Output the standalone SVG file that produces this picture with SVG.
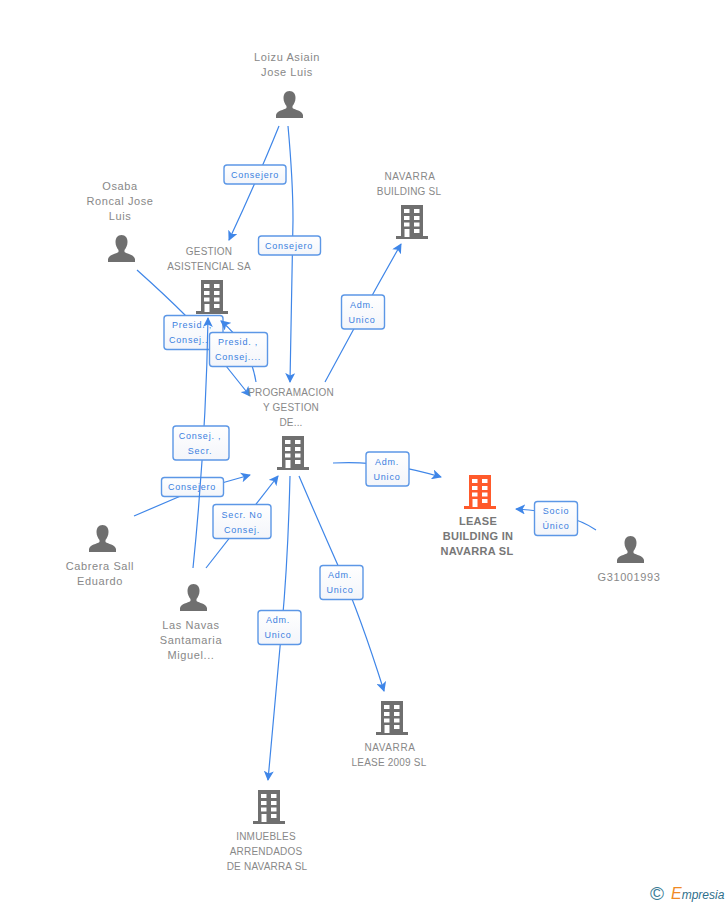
<svg xmlns="http://www.w3.org/2000/svg" width="728" height="905" viewBox="0 0 728 905">
<style>
.t{font:11px "Liberation Sans",Arial,sans-serif;fill:#888;text-anchor:middle;letter-spacing:.6px}
.u{font-size:10px;letter-spacing:.2px}
.w{letter-spacing:.6px}
.b{font-weight:bold;font-size:11px;letter-spacing:.3px;fill:#777}
.e{fill:none;stroke:#3f86e8;stroke-width:1.2;marker-end:url(#a)}
.r{fill:url(#g);stroke:#5c97e6;stroke-width:1.4}
.l{font:9px "Liberation Sans",Arial,sans-serif;fill:#3b7fdf;text-anchor:middle;letter-spacing:.8px}
.ico{fill:#6f6f6f}
</style>
<defs>
<linearGradient id="g" x1="0" y1="0" x2="0" y2="1"><stop offset="0" stop-color="#fff"/><stop offset="1" stop-color="#f3f5fa"/></linearGradient>
<marker id="a" viewBox="0 0 10 10" refX="9" refY="5" markerWidth="10" markerHeight="10" markerUnits="userSpaceOnUse" orient="auto"><path d="M0,0L10,5L0,10L2.500,5z" fill="#3f86e8"/></marker>
<symbol id="bld" viewBox="0 0 32 34" width="32" height="34" overflow="visible">
<path fill-rule="evenodd" d="M5,0H27V31H32V34H0V31H5ZM8,4V8H13.500V4ZM18,4V8H23.500V4ZM8,11V15H13.500V11ZM18,11V15H23.500V11ZM8,17.500V21.500H13.500V17.500ZM18,17.500V21.500H23.500V17.500ZM8.500,24V32H13.500V24ZM18,24V28H23.500V24Z"/>
</symbol>
<symbol id="per" viewBox="0 0 27 27" width="27" height="27" overflow="visible">
<path d="M13.500,0C17.500,0 19.500,3 19.500,7C19.500,10.500 18,13 16.500,15V17C19,19 26,19.500 27,24V27H0V24C1,19.500 8,19 10.500,17V15C9,13 7.500,10.500 7.500,7C7.500,3 9.500,0 13.500,0Z"/>
</symbol>
</defs>
<rect width="728" height="905" fill="#fff"/>
<g id="connectors">
<path class="e" d="M279,126Q258,178 229,240"/>
<rect class="r" x="224" y="165" width="62" height="19" rx="3"/><text class="l" x="255" y="178">Consejero</text>
<path class="e" d="M288,126C292,170 293,195 293,220L290,382"/>
<rect class="r" x="258.500" y="236" width="62" height="19" rx="3"/><text class="l" x="289" y="249">Consejero</text>
<path class="e" d="M325,382Q345,345 363,312T401,244"/>
<rect class="r" x="341.500" y="295" width="43" height="34" rx="3"/><text class="l" x="362" y="308">Adm.</text><text class="l" x="362" y="323">Unico</text>
<path class="e" d="M134,516L190,492L250,475"/>
<rect class="r" x="161.500" y="477.500" width="62" height="19" rx="3"/><text class="l" x="192" y="490">Consejero</text>
<path class="e" d="M137,270Q165,295 186,316L250,396"/>
<rect class="r" x="164" y="315.500" width="59" height="34" rx="3"/><text class="l" x="192" y="328">Presid. ,</text><text class="l" x="192" y="343">Consej....</text>
<path class="e" d="M256,382Q250,345 221,321"/>
<rect class="r" x="209.500" y="332.500" width="58" height="34" rx="3"/><text class="l" x="238" y="345">Presid. ,</text><text class="l" x="238" y="360">Consej....</text>
<path class="e" d="M193,568Q206,440 208,318"/>
<rect class="r" x="173" y="426" width="56" height="34" rx="3"/><text class="l" x="200" y="439">Consej. ,</text><text class="l" x="200" y="454">Secr.</text>
<path class="e" d="M206,568L278,476"/>
<rect class="r" x="213" y="504.500" width="58" height="34" rx="3"/><text class="l" x="242" y="518">Secr.  No</text><text class="l" x="242" y="533">Consej.</text>
<path class="e" d="M299,476Q320,525 340,570T384,691"/>
<rect class="r" x="320" y="565.500" width="43" height="34" rx="3"/><text class="l" x="340" y="578">Adm.</text><text class="l" x="340" y="593">Unico</text>
<path class="e" d="M290,476Q288,560 282,625T268,780"/>
<rect class="r" x="258" y="610.500" width="43" height="34" rx="3"/><text class="l" x="278" y="623">Adm.</text><text class="l" x="278" y="638">Unico</text>
<path class="e" d="M333,463Q385,460 441,477"/>
<rect class="r" x="366" y="452" width="43" height="34" rx="3"/><text class="l" x="387" y="465">Adm.</text><text class="l" x="387" y="480">Unico</text>
<path class="e" d="M596,530Q570,512 516,509"/>
<rect class="r" x="534.500" y="501.500" width="43" height="34" rx="3"/><text class="l" x="556" y="514">Socio</text><text class="l" x="556" y="529">Único</text>
</g>
<g id="n-loizu"><use href="#per" x="276" y="91" class="ico"/><text class="t" x="287" y="61">Loizu Asiain</text><text class="t" x="287" y="76">Jose Luis</text></g>
<g id="n-osaba"><use href="#per" x="108" y="235" class="ico"/><text class="t" x="120" y="190">Osaba</text><text class="t" x="120" y="205">Roncal Jose</text><text class="t" x="120" y="220">Luis</text></g>
<g id="n-navarra-building"><use href="#bld" x="396" y="205" class="ico"/><text class="t u w" x="410" y="180">NAVARRA</text><text class="t u" x="409" y="195">BUILDING SL</text></g>
<g id="n-gestion"><use href="#bld" x="196" y="280" class="ico"/><text class="t u" x="209" y="255">GESTION</text><text class="t u" x="209" y="270">ASISTENCIAL SA</text></g>
<g id="n-programacion"><use href="#bld" x="277" y="436" class="ico"/><text class="t u" x="291" y="396">PROGRAMACION</text><text class="t u" x="291" y="411">Y GESTION</text><text class="t u" x="291" y="426">DE...</text></g>
<g id="n-lease"><use href="#bld" x="464" y="475" fill="#ff5a2b"/><text class="t b" x="478" y="525">LEASE</text><text class="t b" x="478" y="540">BUILDING IN</text><text class="t b" x="477" y="555">NAVARRA SL</text></g>
<g id="n-g31"><use href="#per" x="617" y="536" class="ico"/><text class="t" x="629" y="581">G31001993</text></g>
<g id="n-cabrera"><use href="#per" x="89" y="525" class="ico"/><text class="t" x="100" y="570">Cabrera Sall</text><text class="t" x="100" y="585">Eduardo</text></g>
<g id="n-lasnavas"><use href="#per" x="180" y="584" class="ico"/><text class="t" x="191" y="629">Las Navas</text><text class="t" x="191" y="644">Santamaria</text><text class="t" x="191" y="659">Miguel...</text></g>
<g id="n-navarra-lease"><use href="#bld" x="376" y="701" class="ico"/><text class="t u w" x="390" y="751">NAVARRA</text><text class="t u" x="389" y="766">LEASE 2009 SL</text></g>
<g id="n-inmuebles"><use href="#bld" x="253" y="790" class="ico"/><text class="t u" x="266" y="840">INMUEBLES</text><text class="t u" x="266" y="855">ARRENDADOS</text><text class="t u" x="267" y="870">DE NAVARRA SL</text></g>
<g id="logo"><text x="650" y="900" font-family="'Liberation Sans',sans-serif" font-size="19" fill="#3a7c96">©</text><text x="671" y="899" font-family="'Liberation Sans',sans-serif" font-style="italic" font-size="12" fill="#2f6f8c"><tspan fill="#f08a24" font-size="16">E</tspan>mpresia</text></g>
</svg>
